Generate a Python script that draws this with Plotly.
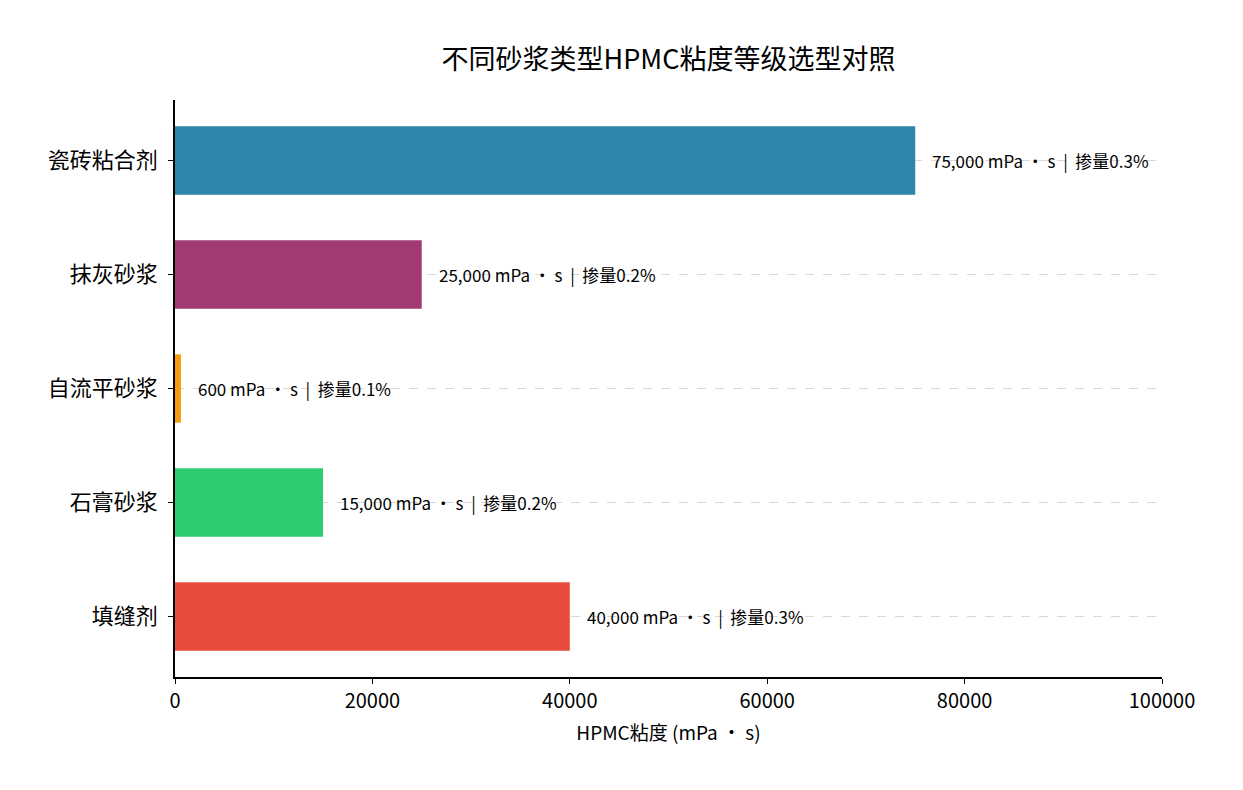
import plotly.graph_objects as go

# --- DATA (bottom to top, like matplotlib barh) ---
MORTARS = ["填缝剂", "石膏砂浆", "自流平砂浆", "抹灰砂浆", "瓷砖粘合剂"]
VISCOSITY = [40000, 15000, 600, 25000, 75000]
DOSAGE = ["0.3%", "0.2%", "0.1%", "0.2%", "0.3%"]
COLORS = ["#e74c3c", "#2ecc71", "#f39c12", "#a23b72", "#2e86ab"]
X_TICKS = [0, 20000, 40000, 60000, 80000, 100000]

FONT = "Noto Sans CJK SC"

fig = go.Figure()

fig.add_trace(go.Bar(
    y=list(range(len(MORTARS))),
    x=VISCOSITY,
    orientation="h",
    width=0.6,
    marker=dict(color=COLORS, line=dict(width=0)),
    showlegend=False,
    hoverinfo="skip",
))

# value labels right of each bar
for i, (v, d) in enumerate(zip(VISCOSITY, DOSAGE)):
    fig.add_annotation(
        x=v + 1500, y=i, xref="x", yref="y",
        text=f"{v:,} mPa · s  |  掺量{d}",
        showarrow=False, xanchor="left", yanchor="middle",
        font=dict(family=FONT, size=17, color="black"),
    )

# page body adds an 8px offset, margins compensate for it
fig.update_layout(
    width=1243, height=790,
    margin=dict(l=167, r=89, t=92, b=121),
    plot_bgcolor="white",
    paper_bgcolor="white",
    font=dict(family=FONT, size=20, color="black"),
    title=dict(
        text="不同砂浆类型HPMC粘度等级选型对照",
        xref="paper", x=0.5, xanchor="center", y=0.935, yanchor="middle",
        font=dict(family=FONT, size=27, color="black"),
    ),
    bargap=0.4,
)

fig.update_xaxes(
    range=[0, 100000],
    tickvals=X_TICKS,
    ticktext=[str(t) for t in X_TICKS],
    showgrid=False,
    zeroline=False,
    showline=True, linecolor="black", linewidth=1.5,
    ticks="outside", ticklen=5, tickcolor="black",
    tickfont=dict(family=FONT, size=20),
    title=dict(text="HPMC粘度 (mPa · s)", font=dict(family=FONT, size=19), standoff=14),
)

fig.update_yaxes(
    range=[-0.53, 4.53],
    tickvals=list(range(len(MORTARS))),
    ticktext=MORTARS,
    showgrid=True, gridcolor="rgba(190,190,190,0.6)", griddash="dash", gridwidth=1,
    layer="above traces",
    zeroline=False,
    showline=True, linecolor="black", linewidth=1.5,
    ticks="outside", ticklen=5, tickcolor="black",
    ticklabelstandoff=6,
    tickfont=dict(family=FONT, size=22),
)

fig.write_html("out.html")
